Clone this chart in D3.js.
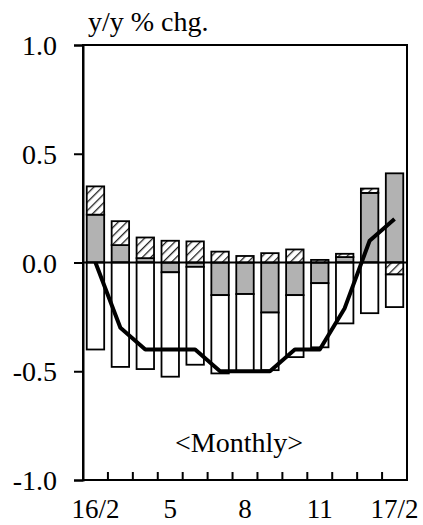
<!DOCTYPE html>
<html><head><meta charset="utf-8">
<script src="https://cdn.jsdelivr.net/npm/d3@7"></script>
<style>body{margin:0;background:#fff}svg{display:block}text{font-family:"Liberation Serif","Times New Roman",serif;fill:#000}</style>
</head><body>
<script>
const categories = ["16/2","3","4","5","6","7","8","9","10","11","12","17/1","17/2"];
const tickLabels = ["16/2","","","5","","","8","","","11","","","17/2"];
const grayVals  = [0.22, 0.08, 0.02, -0.045, -0.02, -0.15, -0.145, -0.23, -0.15, -0.095, 0.025, 0.32, 0.41];
const hatchVals = [0.13, 0.11, 0.095, 0.10, 0.097, 0.05, 0.03, 0.043, 0.06, 0.012, 0.015, 0.02, -0.055];
const whiteVals = [-0.40, -0.48, -0.49, -0.48, -0.45, -0.36, -0.355, -0.265, -0.285, -0.295, -0.28, -0.233, -0.15];
const totalLine = [0.0, -0.30, -0.40, -0.40, -0.40, -0.50, -0.50, -0.50, -0.40, -0.40, -0.21, 0.10, 0.20];
const yTicks = [1.0, 0.5, 0.0, -0.5, -1.0];

const W = 423, H = 525;
const m = {l: 83, r: 16, t: 45, b: 45};
const svg = d3.select("body").append("svg").attr("width", W).attr("height", H);
const defs = svg.append("defs");
const pat = defs.append("pattern").attr("id","hatch").attr("patternUnits","userSpaceOnUse")
  .attr("width",6).attr("height",6).attr("patternTransform","rotate(45)");
pat.append("rect").attr("width",6).attr("height",6).attr("fill","#fff");
pat.append("line").attr("x1",0).attr("y1",0).attr("x2",0).attr("y2",6).attr("stroke","#222").attr("stroke-width",2.6);

const x = d3.scaleBand().domain(categories).range([m.l, W - m.r]).paddingInner(0.3).paddingOuter(0.15);
const xc = d3.scalePoint().domain(categories).range([m.l, W - m.r]).padding(0.5);
const y = d3.scaleLinear().domain([-1, 1]).range([H - m.b, m.t]);

const rows = categories.map((c, i) => ({cat: c, gray: grayVals[i], hatch: hatchVals[i], white: whiteVals[i]}));
const keys = ["gray","hatch","white"];
const fills = {gray: "#b2b2b2", hatch: "url(#hatch)", white: "#fff"};
const stack = d3.stack().keys(keys).offset(d3.stackOffsetDiverging)(rows);

const g = svg.append("g");
stack.forEach(layer => {
  g.selectAll(null).data(layer).join("rect")
    .attr("x", d => x(d.data.cat))
    .attr("width", x.bandwidth())
    .attr("y", d => y(Math.max(d[0], d[1])))
    .attr("height", d => Math.abs(y(d[0]) - y(d[1])))
    .attr("fill", fills[layer.key])
    .attr("stroke", "#000").attr("stroke-width", 1.8);
});

// zero line
svg.append("line").attr("x1", m.l).attr("x2", W - m.r).attr("y1", y(0)).attr("y2", y(0))
  .attr("stroke", "#000").attr("stroke-width", 2);

// total line
svg.append("path").datum(totalLine)
  .attr("d", d3.line().x((d, i) => xc(categories[i])).y(d => y(d)))
  .attr("fill", "none").attr("stroke", "#000").attr("stroke-width", 4).attr("stroke-linejoin","round");

// frame
svg.append("rect").attr("x", m.l).attr("y", m.t).attr("width", W - m.r - m.l).attr("height", H - m.b - m.t)
  .attr("fill", "none").attr("stroke", "#000").attr("stroke-width", 2);

// y axis
const yAxis = svg.append("g").attr("transform", `translate(${m.l},0)`)
  .call(d3.axisLeft(y).tickValues(yTicks).tickFormat(d => d.toFixed(1)).tickSize(9).tickPadding(17));
yAxis.select(".domain").attr("stroke-width", 2);
yAxis.selectAll(".tick line").attr("stroke-width", 2);
yAxis.selectAll("text").style("font-size", "28px").style("font-family", '"Liberation Serif",serif').attr("dy", "0.34em");

// x axis: inner ticks at category boundaries
const bounds = d3.range(1, categories.length).map(i => m.l + i * (W - m.r - m.l) / categories.length);
svg.append("g").selectAll("line").data(bounds).join("line")
  .attr("x1", d => d).attr("x2", d => d).attr("y1", H - m.b).attr("y2", H - m.b - 8)
  .attr("stroke", "#000").attr("stroke-width", 2);
svg.append("g").selectAll("text").data(categories).join("text")
  .attr("x", d => xc(d)).attr("y", 518)
  .attr("text-anchor", "middle").style("font-size", "27px")
  .text((d, i) => tickLabels[i]);

svg.append("text").attr("x", 88).attr("y", 31).style("font-size", "28px").text("y/y % chg.");
svg.append("text").attr("x", 239).attr("y", 452).attr("text-anchor","middle").style("font-size", "28px").text("<Monthly>");
</script>
</body></html>
